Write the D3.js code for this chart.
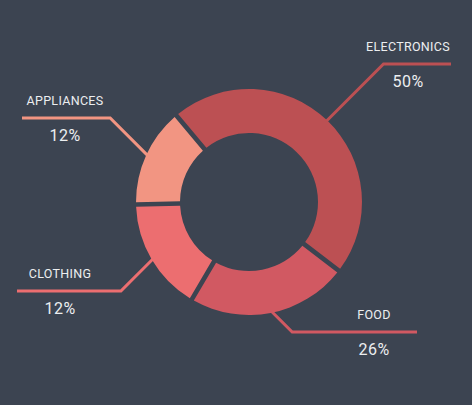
<!DOCTYPE html>
<html>
<head>
<meta charset="utf-8">
<script src="https://cdn.jsdelivr.net/npm/d3@7/dist/d3.min.js"></script>
<style>
  html, body { margin: 0; padding: 0; background: #3c4451; }
  svg { display: block; }
  text { font-family: Roboto, "Open Sans", sans-serif; fill: #eceef0; }
</style>
</head>
<body>
<svg width="472" height="405"></svg>
<script>
// slice data
const categories = ['ELECTRONICS', 'FOOD', 'CLOTHING', 'APPLIANCES'];
const values = [47, 23, 16, 14];
const percentLabels = ['50%', '26%', '12%', '12%'];
const colors = ['#bc5053', '#d15962', '#ec6e70', '#f29582'];

const width = 472, height = 405;
const cx = 249, cy = 202;
const innerR = 69, outerR = 113;

const svg = d3.select('svg');
svg.append('rect').attr('width', width).attr('height', height).attr('fill', '#3c4451');

const g = svg.append('g').attr('transform', `translate(${cx},${cy})`);

const pie = d3.pie()
  .sort(null)
  .value(d => d)
  .startAngle(-40 * Math.PI / 180)
  .endAngle(320 * Math.PI / 180)
  .padAngle(0.035);

const arcs = pie(values);

const arc = d3.arc()
  .innerRadius(innerR)
  .outerRadius(outerR);

// label layout: which side, row of the horizontal leader, outer end of that leader
const labelLayout = [
  { side: 1, row: 64, end: 451 },
  { side: 1, row: 332, end: 417 },
  { side: -1, row: 291, end: 17 },
  { side: -1, row: 118, end: 22 }
];

// leader lines (drawn first, the slices cover their start)
arcs.forEach((d, i) => {
  const lay = labelLayout[i];
  const mid = (d.startAngle + d.endAngle) / 2;
  const r = outerR - 3;
  const ax = Math.sin(mid) * r;
  const ay = -Math.cos(mid) * r;
  const rowY = lay.row - cy;
  const ex = ax + lay.side * Math.abs(rowY - ay);
  const endX = lay.end - cx;

  g.append('path')
    .attr('d', d3.line()([[ax, ay], [ex, rowY], [endX, rowY]]))
    .attr('fill', 'none')
    .attr('stroke', colors[i])
    .attr('stroke-width', 3);

  const tx = endX - lay.side * 43;

  g.append('text')
    .attr('x', tx)
    .attr('y', rowY - 13)
    .attr('text-anchor', 'middle')
    .attr('font-size', '12.5px')
    .attr('letter-spacing', '0.3px')
    .text(categories[i]);

  g.append('text')
    .attr('x', tx)
    .attr('y', rowY + 23)
    .attr('text-anchor', 'middle')
    .attr('font-size', '16px')
    .attr('letter-spacing', '0.5px')
    .text(percentLabels[i]);
});

g.selectAll('path.slice')
  .data(arcs)
  .join('path')
  .attr('class', 'slice')
  .attr('d', arc)
  .attr('fill', (d, i) => colors[i]);
</script>
</body>
</html>
